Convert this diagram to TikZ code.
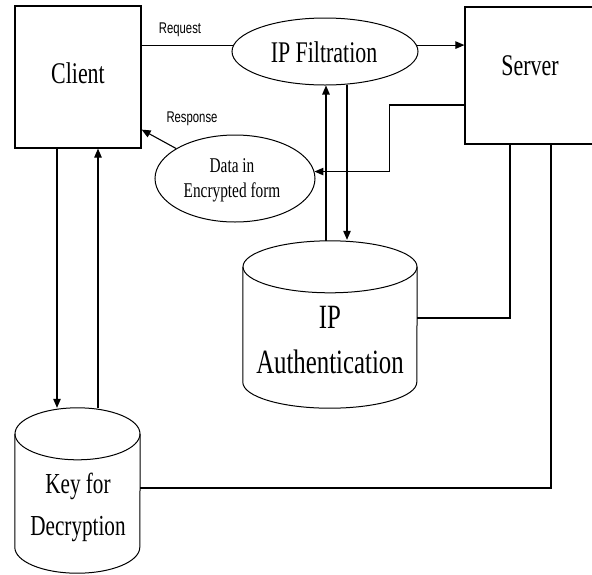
\documentclass[tikz,border=0pt]{standalone}
\usepackage{fontspec}
\usetikzlibrary{arrows.meta,shapes.geometric,calc}
\newfontfamily\serifn{Liberation Serif}[FakeStretch=0.73]
\newfontfamily\sansn{Liberation Sans}[FakeStretch=0.73]

% drum (database) outline around a rectangular helper node: name, x radius, y radius
\newcommand\drawdrum[3]{%
  \draw[shape line] ([yshift=-#3]#1.north west) -- ([yshift=#3]#1.south west)
    arc[start angle=180, end angle=360, x radius=#2, y radius=#3]
    -- ([yshift=-#3]#1.north east);
  \draw[shape line] ([yshift=-#3]#1.north) ellipse [x radius=#2, y radius=#3];
}

\tikzset{
  shape line/.style={line width=1pt},
  wire/.style={line width=1.1pt},
  arr/.style={wire, -{Triangle[length=9pt,width=7.5pt]}},
  boxnode/.style={draw, line width=1.2pt, rectangle, inner sep=0pt},
  ovalnode/.style={draw, shape line, ellipse, inner sep=0pt},
  holder/.style={rectangle, inner sep=0pt},
  bigtxt/.style={anchor=base, inner sep=0pt, font=\serifn\fontsize{30}{36}\selectfont},
  midtxt/.style={anchor=base, inner sep=0pt, font=\serifn\fontsize{21}{25}\selectfont},
  autxt/.style={anchor=base, inner sep=0pt, font=\serifn\fontsize{34}{40}\selectfont},
  keytxt/.style={anchor=base, inner sep=0pt, font=\serifn\fontsize{29}{35}\selectfont},
  smalltxt/.style={anchor=base, inner sep=0pt, font=\sansn\fontsize{15.5}{18}\selectfont},
}

\begin{document}
\begin{tikzpicture}[x=1pt, y=-1pt]
  \useasboundingbox (0,0) rectangle (592,574);
  \fill[white] (0,0) rectangle (592,574);
  \clip (0,0) rectangle (592,574);

  % main shapes
  \node[boxnode, minimum width=126pt, minimum height=142pt] (client) at (78,77) {};
  \node[boxnode, minimum width=130pt, minimum height=137pt] (server) at (530,75.5) {};
  \node[ovalnode, minimum width=186pt, minimum height=67pt] (ipf) at (325,51.5) {};
  \node[ovalnode, minimum width=160pt, minimum height=87pt] (data) at (235,178.5) {};
  \node[holder, minimum width=174pt, minimum height=167pt] (auth) at (330,324.5) {};
  \node[holder, minimum width=125pt, minimum height=165pt] (key) at (77.5,490.5) {};
  \drawdrum{auth}{87pt}{26pt}
  \drawdrum{key}{62.5pt}{26pt}

  % texts
  \node[bigtxt] (clienttxt) at (78,83) {Client};
  \node[bigtxt] (servertxt) at (530,75) {Server};
  \node[bigtxt] (ipftxt) at (324,62) {IP Filtration};
  \node[midtxt] (datatxta) at (232,172) {Data in};
  \node[midtxt] (datatxtb) at (232,197) {Encrypted form};
  \node[autxt] (authtxta) at (330,328) {IP};
  \node[autxt] (authtxtb) at (330,373) {Authentication};
  \node[keytxt] (keytxta) at (78,493) {Key for};
  \node[keytxt] (keytxtb) at (78,535) {Decryption};
  \node[smalltxt] (reqtxt) at (180,33) {Request};
  \node[smalltxt] (resptxt) at (192,122) {Response};

  % client <-> filtration <-> server
  \draw[wire] (ipf.176) -- (ipf.176 -| client.east);
  \draw[arr] (ipf.4) -- (ipf.4 -| server.west);

  % server back to the client through the encrypted data
  \draw[arr] ([yshift=-29.5pt]server.west) -| ([xshift=75pt]data.5) -- (data.5);
  \draw[arr] (data.153) -- ([yshift=19pt]client.south east);

  % filtration <-> authentication
  \coordinate (upa) at ([xshift=-4pt]auth.north);
  \draw[arr] (upa) -- (upa |- ipf.south);
  \coordinate (dna) at ([xshift=22pt,yshift=1pt]ipf.south);
  \coordinate (dnb) at ([xshift=17pt,yshift=1pt]auth.north);
  \draw[arr] (dna) -- (dna |- dnb);

  % server links to the stores
  \draw[wire] ([xshift=-20pt]server.south) |- ([yshift=6.5pt]auth.east);
  \draw[wire] ([xshift=21pt]server.south) |- ([yshift=2.5pt]key.east);

  % client <-> key store
  \coordinate (cka) at ([xshift=-21pt]client.south);
  \coordinate (ckb) at ([xshift=20pt]client.south);
  \draw[arr] (cka) -- (cka |- key.north);
  \draw[arr] (ckb |- key.north) -- (ckb);
\end{tikzpicture}
\end{document}
